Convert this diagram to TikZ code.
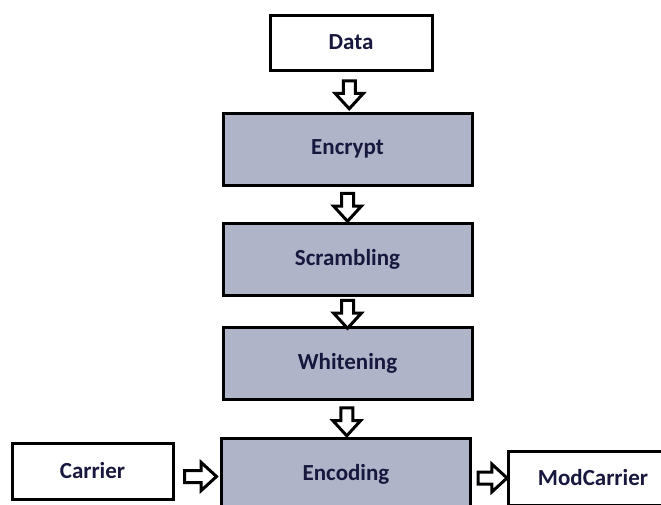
\documentclass[tikz,border=0pt]{standalone}
\usepackage{fontspec}
\setmainfont{Carlito}
\usetikzlibrary{shapes.arrows,calc}
\definecolor{stagefill}{RGB}{175,180,201}
\definecolor{labelink}{RGB}{24,24,62}
\tikzset{
  plainbox/.style={draw=black, line width=3pt, fill=white, rectangle,
    text=labelink, font=\bfseries\fontsize{23}{27}\selectfont, inner sep=0pt},
  stagebox/.style={plainbox, fill=stagefill, minimum width=249pt, minimum height=72pt},
  flowarrow/.style={draw=black, fill=white, line width=3pt, single arrow,
    single arrow head extend=8pt, inner sep=4.5pt, single arrow head indent=0pt,
    single arrow tip angle=85}
}
\begin{document}
\begin{tikzpicture}[x=1pt,y=-1pt]
  \path[use as bounding box, fill=white] (0,0) rectangle (661,504);

  % source and processing chain
  \node[plainbox, minimum width=162pt, minimum height=55pt] (data) at (351,42.5) {Data};
  \node[stagebox] (encrypt) at (347.5,149) {Encrypt};
  \node[stagebox] (scramble) at (347.5,259) {Scrambling};
  \node[stagebox] (whiten) at (347.5,363) {Whitening};
  \node[stagebox] (encode) at (346,474) {Encoding};

  % carrier input and modulated output
  \node[plainbox, minimum width=161pt, minimum height=56pt] (carrier) at (92.5,471) {Carrier};
  \node[plainbox, minimum width=170pt, minimum height=54pt] (modcarrier) at (593,478) {ModCarrier};

  % hollow block arrows between the stages
  \node[flowarrow, shape border rotate=270, minimum height=28pt]
    at ($(data.south)!0.5!(encrypt.north)$) {};
  \node[flowarrow, shape border rotate=270, minimum height=28pt]
    at ($(encrypt.south)!0.5!(scramble.north)$) {};
  \node[flowarrow, shape border rotate=270, minimum height=28pt]
    at ($(scramble.south)!0.5!(whiten.north)$) {};
  \node[flowarrow, shape border rotate=270, minimum height=28pt]
    at ($(whiten.south)!0.5!(encode.north)$) {};
  \node[flowarrow, minimum height=32pt]
    at ($(carrier.east)!0.5!(encode.west)+(0,4)$) {};
  \node[flowarrow, minimum height=29pt]
    at ($(encode.east|-modcarrier.west)!0.5!(modcarrier.west)$) {};
\end{tikzpicture}
\end{document}
